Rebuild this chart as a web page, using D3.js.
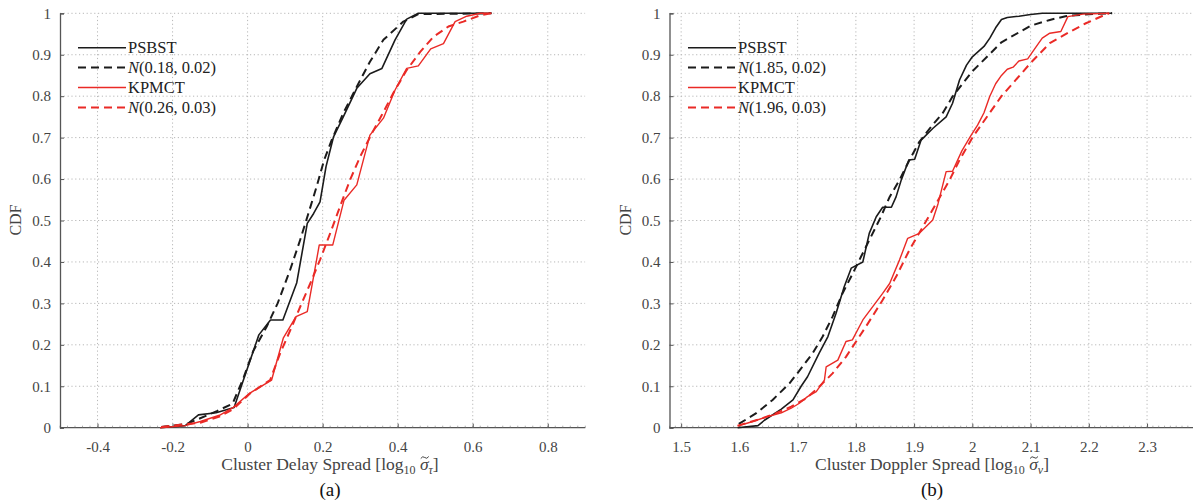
<!DOCTYPE html>
<html>
<head>
<meta charset="utf-8">
<script src="https://cdn.jsdelivr.net/npm/d3@7"></script>
<style>
  body { margin: 0; background: #fff; }
  svg { display: block; }
  svg text { font-family: "Liberation Serif", "DejaVu Serif", serif; }
</style>
</head>
<body>
<svg id="chart"></svg>
<script>
// ---- data ----
const cdfTicks = [0, 0.1, 0.2, 0.3, 0.4, 0.5, 0.6, 0.7, 0.8, 0.9, 1];
const delayTicks = [-0.4, -0.2, 0, 0.2, 0.4, 0.6, 0.8];
const dopplerTicks = [1.5, 1.6, 1.7, 1.8, 1.9, 2, 2.1, 2.2, 2.3];

// panel (a): [log10 delay spread, CDF]
const delayPsbst = [[-0.233,0],[-0.166,0.005],[-0.131,0.031],[-0.084,0.036],[-0.036,0.049],[-0.013,0.11],[0.03,0.224],[0.061,0.26],[0.094,0.26],[0.131,0.35],[0.159,0.493],[0.176,0.517],[0.193,0.545],[0.209,0.63],[0.229,0.702],[0.255,0.75],[0.291,0.819],[0.326,0.854],[0.358,0.867],[0.393,0.936],[0.424,0.986],[0.455,1],[0.65,1]];
const delayPsbstFit = [[-0.23,0.002],[-0.162,0.009],[-0.082,0.04],[-0.04,0.058],[-0.011,0.12],[0.015,0.185],[0.051,0.244],[0.08,0.3],[0.113,0.38],[0.14,0.453],[0.162,0.517],[0.184,0.582],[0.204,0.646],[0.224,0.694],[0.255,0.759],[0.291,0.823],[0.326,0.883],[0.362,0.936],[0.415,0.98],[0.455,0.998],[0.65,1]];
const delayKpmct = [[-0.233,0],[-0.166,0.005],[-0.126,0.015],[-0.075,0.03],[-0.038,0.049],[0.005,0.083],[0.064,0.115],[0.095,0.216],[0.129,0.268],[0.159,0.28],[0.191,0.441],[0.227,0.441],[0.257,0.549],[0.291,0.586],[0.326,0.706],[0.362,0.747],[0.393,0.815],[0.424,0.867],[0.455,0.873],[0.488,0.914],[0.522,0.927],[0.553,0.98],[0.584,0.993],[0.62,1],[0.65,1]];
const delayKpmctFit = [[-0.23,0.002],[-0.17,0.008],[-0.126,0.012],[-0.075,0.027],[-0.038,0.045],[0.007,0.083],[0.06,0.115],[0.087,0.18],[0.118,0.244],[0.144,0.3],[0.167,0.348],[0.193,0.405],[0.22,0.469],[0.246,0.533],[0.273,0.598],[0.3,0.654],[0.331,0.71],[0.358,0.755],[0.388,0.807],[0.424,0.863],[0.46,0.907],[0.495,0.943],[0.535,0.968],[0.575,0.98],[0.62,0.995],[0.65,1]];

// panel (b): [log10 Doppler spread, CDF]
const dopplerPsbst = [[1.597,0],[1.632,0.005],[1.643,0.018],[1.672,0.045],[1.692,0.067],[1.706,0.1],[1.717,0.123],[1.737,0.18],[1.752,0.22],[1.766,0.276],[1.78,0.34],[1.792,0.385],[1.812,0.4],[1.823,0.469],[1.835,0.509],[1.846,0.532],[1.861,0.532],[1.869,0.557],[1.878,0.598],[1.891,0.646],[1.901,0.648],[1.912,0.694],[1.932,0.722],[1.955,0.75],[1.966,0.783],[1.978,0.839],[1.99,0.875],[2.0,0.895],[2.02,0.92],[2.03,0.94],[2.04,0.965],[2.05,0.985],[2.06,0.99],[2.08,0.993],[2.1,0.997],[2.12,1],[2.24,1]];
const dopplerPsbstFit = [[1.599,0.009],[1.629,0.035],[1.657,0.067],[1.686,0.107],[1.706,0.143],[1.726,0.18],[1.743,0.22],[1.76,0.268],[1.777,0.324],[1.795,0.373],[1.809,0.413],[1.826,0.461],[1.843,0.509],[1.858,0.557],[1.875,0.598],[1.892,0.646],[1.909,0.69],[1.929,0.726],[1.949,0.759],[1.966,0.799],[2.0,0.86],[2.05,0.93],[2.1,0.97],[2.133,0.984],[2.16,0.993],[2.2,0.998],[2.24,1]];
const dopplerKpmct = [[1.597,0.004],[1.623,0.015],[1.649,0.027],[1.672,0.036],[1.689,0.047],[1.703,0.059],[1.717,0.075],[1.732,0.087],[1.746,0.115],[1.749,0.147],[1.769,0.163],[1.783,0.208],[1.794,0.212],[1.812,0.26],[1.829,0.292],[1.846,0.324],[1.858,0.348],[1.875,0.405],[1.889,0.457],[1.909,0.469],[1.932,0.501],[1.941,0.54],[1.955,0.618],[1.966,0.619],[1.982,0.668],[1.998,0.706],[2.009,0.73],[2.02,0.76],[2.03,0.8],[2.04,0.83],[2.05,0.85],[2.06,0.865],[2.07,0.87],[2.08,0.885],[2.095,0.89],[2.11,0.92],[2.12,0.94],[2.133,0.952],[2.152,0.956],[2.164,0.992],[2.19,0.998],[2.235,1]];
const dopplerKpmctFit = [[1.597,0.005],[1.634,0.02],[1.663,0.035],[1.689,0.051],[1.715,0.071],[1.737,0.099],[1.76,0.131],[1.783,0.171],[1.806,0.22],[1.82,0.25],[1.846,0.308],[1.869,0.364],[1.892,0.429],[1.915,0.485],[1.938,0.541],[1.961,0.598],[1.978,0.646],[2.001,0.702],[2.05,0.8],[2.1,0.88],[2.133,0.928],[2.167,0.955],[2.195,0.976],[2.224,0.994],[2.235,1]];

const delayLegend = ["PSBST", "(0.18, 0.02)", "KPMCT", "(0.26, 0.03)"];
const dopplerLegend = ["PSBST", "(1.85, 0.02)", "KPMCT", "(1.96, 0.03)"];

const W = 1193, H = 502;
const BLACK = "#1b1b1b", RED = "#ea2a26";

const svg = d3.select("#chart").attr("width", W).attr("height", H);
svg.append("rect").attr("width", W).attr("height", H).attr("fill", "#fff");

function drawPanel(p) {
  const x = d3.scaleLinear().domain(p.domain).range(p.xRange);
  const y = d3.scaleLinear().domain([0, 1]).range([427.7, 13.3]);
  const g = svg.append("g");
  const clipId = "clip" + p.name;
  const xRight = Math.min(p.xRange[1], W);

  g.append("clipPath").attr("id", clipId)
    .append("rect")
    .attr("x", p.xRange[0]).attr("y", 0)
    .attr("width", xRight - p.xRange[0]).attr("height", H);

  // dotted grid
  const grid = g.append("g").attr("stroke", "#b8b8b8").attr("stroke-width", 1)
    .attr("stroke-dasharray", "1.2,2.6").attr("clip-path", `url(#${clipId})`);
  grid.selectAll("line.h").data(cdfTicks.filter(d => d > 0)).enter().append("line")
    .attr("x1", p.xRange[0]).attr("x2", p.xRange[1])
    .attr("y1", d => y(d)).attr("y2", d => y(d));
  grid.selectAll("line.v").data(p.ticks).enter().append("line")
    .attr("x1", d => x(d)).attr("x2", d => x(d))
    .attr("y1", y(0)).attr("y2", y(1));

  // axes (MATLAB style, ticks inward)
  const fmt = d => String(d);
  const xAxis = g.append("g").attr("transform", `translate(0,${y(0)})`)
    .call(d3.axisBottom(x).tickValues(p.ticks).tickSize(-4).tickPadding(14).tickFormat(fmt));
  const minor = d3.range(p.domain[0], p.domain[1] + 1e-9, p.minorStep);
  xAxis.selectAll("line.minor").data(minor).enter().append("line")
    .attr("class", "minor")
    .attr("x1", d => x(d)).attr("x2", d => x(d))
    .attr("y1", 0).attr("y2", -2)
    .attr("stroke", "#777").attr("stroke-width", 0.6);
  const yAxis = g.append("g").attr("transform", `translate(${p.xRange[0]},0)`)
    .call(d3.axisLeft(y).tickValues(cdfTicks).tickSize(-4).tickPadding(9).tickFormat(fmt));

  [xAxis, yAxis].forEach(a => {
    a.attr("font-family", null);
    a.select(".domain").attr("stroke", "#555").attr("stroke-width", 1.3);
    a.selectAll(".tick line").attr("stroke", "#555");
    a.selectAll("text").attr("fill", "#444").style("font-size", "15px");
  });
  xAxis.select(".domain").attr("d", `M${p.xRange[0]},0H${p.xRange[1]}`);

  // curves
  const line = d3.line().x(d => x(d[0])).y(d => y(d[1]));
  const series = [
    { data: p.psbst, color: BLACK, w: 1.6, dash: null },
    { data: p.psbstFit, color: BLACK, w: 2, dash: "8,5" },
    { data: p.kpmct, color: RED, w: 1.4, dash: null },
    { data: p.kpmctFit, color: RED, w: 2, dash: "8,5" }
  ];
  series.forEach(s => {
    g.append("path").datum(s.data)
      .attr("fill", "none")
      .attr("stroke", s.color)
      .attr("stroke-width", s.w)
      .attr("stroke-dasharray", s.dash)
      .attr("stroke-linejoin", "round")
      .attr("d", line);
  });

  // legend
  const lg = g.append("g");
  series.forEach((s, i) => {
    const ly = 47.7 + i * 19.9;
    lg.append("line")
      .attr("x1", p.legendX).attr("x2", p.legendX + 48)
      .attr("y1", ly).attr("y2", ly)
      .attr("stroke", s.color).attr("stroke-width", s.w)
      .attr("stroke-dasharray", s.dash);
    const t = lg.append("text")
      .attr("x", p.legendX + 50).attr("y", ly + 5.5)
      .attr("fill", "#222").style("font-size", "16.5px");
    if (i % 2 === 1) {
      t.append("tspan").attr("font-style", "italic").text("N");
    }
    t.append("tspan").text(p.legend[i]);
  });

  // x label, tilde over sigma drawn as a small path
  const xl = g.append("text")
    .attr("x", p.labelX).attr("y", 470)
    .attr("text-anchor", "middle").attr("fill", "#444").style("font-size", "17.5px");
  xl.append("tspan").text(p.label + " [log");
  xl.append("tspan").attr("dy", 4).style("font-size", "12px").text("10");
  xl.append("tspan").attr("dy", -4).attr("font-style", "italic").text(" \u03C3");
  xl.append("tspan").attr("dy", 4).attr("font-style", "italic").style("font-size", "12px").text(p.sub);
  xl.append("tspan").attr("dy", -4).text("]");
  const idx = xl.text().indexOf("\u03C3");
  const box = xl.node().getExtentOfChar(idx);
  const tx = box.x + box.width / 2 + 0.5, ty = box.y + 3.5;
  g.append("path")
    .attr("d", `M${tx - 4},${ty + 1} Q${tx - 2},${ty - 2} ${tx},${ty} T${tx + 4},${ty - 1}`)
    .attr("fill", "none").attr("stroke", "#444").attr("stroke-width", 1);

  g.append("text")
    .attr("transform", `translate(${p.xRange[0] - 39},220) rotate(-90)`)
    .attr("text-anchor", "middle").attr("fill", "#444").style("font-size", "16px")
    .text("CDF");

  g.append("text")
    .attr("x", p.labelX).attr("y", 496)
    .attr("text-anchor", "middle").attr("fill", "#111").style("font-size", "19px")
    .text(p.tag);
}

drawPanel({
  name: "a", domain: [-0.5, 0.9], xRange: [60, 585.3], ticks: delayTicks, minorStep: 0.02,
  psbst: delayPsbst, psbstFit: delayPsbstFit, kpmct: delayKpmct, kpmctFit: delayKpmctFit,
  legend: delayLegend, legendX: 78, label: "Cluster Delay Spread", sub: "\u03C4",
  labelX: 330, tag: "(a)"
});
drawPanel({
  name: "b", domain: [1.48, 2.4], xRange: [669.5, 1205.3], ticks: dopplerTicks, minorStep: 0.01,
  psbst: dopplerPsbst, psbstFit: dopplerPsbstFit, kpmct: dopplerKpmct, kpmctFit: dopplerKpmctFit,
  legend: dopplerLegend, legendX: 688, label: "Cluster Doppler Spread", sub: "\u03BD",
  labelX: 932, tag: "(b)"
});
</script>
</body>
</html>
